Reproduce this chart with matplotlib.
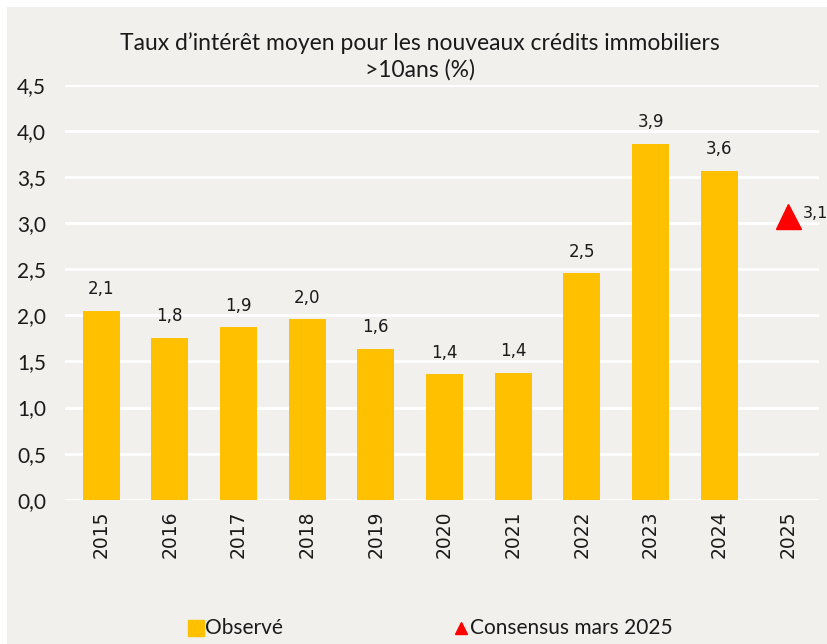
import matplotlib.pyplot as plt
import matplotlib.patches as mpatches
from matplotlib.lines import Line2D

years = ["2015", "2016", "2017", "2018", "2019", "2020", "2021", "2022", "2023", "2024", "2025"]
observed = [2.05, 1.76, 1.87, 1.96, 1.64, 1.36, 1.38, 2.46, 3.86, 3.57]
observed_labels = ["2,1", "1,8", "1,9", "2,0", "1,6", "1,4", "1,4", "2,5", "3,9", "3,6"]
consensus_year = "2025"
consensus = 3.08
consensus_label = "3,1"
yticks = [0, 0.5, 1, 1.5, 2, 2.5, 3, 3.5, 4, 4.5]
ytick_labels = ["0,0", "0,5", "1,0", "1,5", "2,0", "2,5", "3,0", "3,5", "4,0", "4,5"]
legend_labels = ["Observé", "Consensus mars 2025"]

narrow = ["Lato", "DejaVu Sans"]
bg = "#f1f0ed"
txt = "#1a1a1a"
yellow = "#ffc000"
red = "#ff0000"

fig = plt.figure(figsize=(8.27, 6.44), dpi=100, facecolor="white")
fig.patches.append(mpatches.Rectangle((7 / 827, 0), 1, 1 - 7 / 644, transform=fig.transFigure,
                                      facecolor=bg, edgecolor="none", zorder=-10))
ax = fig.add_axes([0.079, 0.224, 0.911, 0.644])
ax.set_facecolor(bg)

x = list(range(len(years)))
ax.bar(x[:len(observed)], observed, width=0.54, color=yellow, zorder=3)
for xi, v, lab in zip(x, observed, observed_labels):
    ax.annotate(lab, (xi, v), xytext=(0, 9), textcoords="offset points",
                ha="center", va="bottom", fontsize=12, color=txt)

cx = years.index(consensus_year)
ax.plot([cx], [consensus], marker="^", ms=18, color=red, ls="none", zorder=4)
ax.annotate(consensus_label, (cx, consensus), xytext=(11, 2), textcoords="offset points",
            ha="left", va="center", fontsize=11.5, color=txt, annotation_clip=False)

ax.set_xlim(-0.52, 10.45)
ax.set_ylim(0, 4.5)
ax.set_yticks(yticks)
ax.set_yticklabels(ytick_labels, family=narrow, fontsize=15, color=txt)
ax.set_xticks(x)
ax.set_xticklabels(years, rotation=90, fontsize=13.5, color=txt)
ax.tick_params(length=0, pad=8)
ax.tick_params(axis="y", pad=14)
ax.grid(axis="y", color="white", lw=2, zorder=0)
ax.set_axisbelow(True)
for s in ax.spines.values():
    s.set_visible(False)

fig.text(0.508, 0.913, "Taux d\u2019intérêt moyen pour les nouveaux crédits immobiliers\n>10ans (%)",
         ha="center", va="center", fontsize=16.5, family=narrow, color=txt, linespacing=1.3)

# legend drawn by hand to match positions
ly = 1 - 628 / 644
fig.add_artist(Line2D([196 / 827], [ly], marker="s", ms=11, color=yellow, ls="none",
                      transform=fig.transFigure))
fig.text(205 / 827, ly, legend_labels[0], ha="left", va="center", fontsize=15,
         family=narrow, color=txt)
fig.add_artist(Line2D([461 / 827], [ly], marker="^", ms=9, color=red, ls="none",
                      transform=fig.transFigure))
fig.text(470 / 827, ly, legend_labels[1], ha="left", va="center", fontsize=15,
         family=narrow, color=txt)

fig.savefig("out.png", dpi=100, facecolor=fig.get_facecolor())
